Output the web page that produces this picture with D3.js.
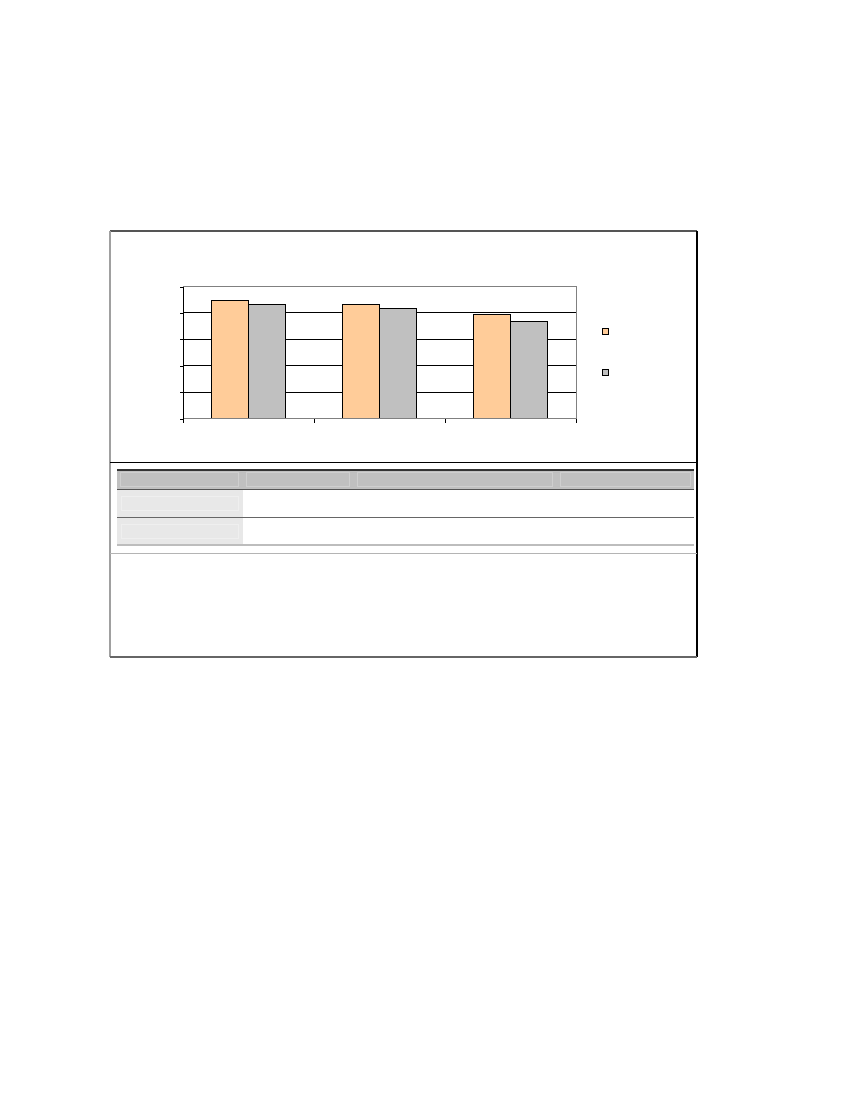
<!DOCTYPE html>
<html>
<head>
<meta charset="utf-8">
<script src="https://cdn.jsdelivr.net/npm/d3@7"></script>
<style>
  body { margin: 0; background: #fff; }
  svg { display: block; shape-rendering: crispEdges; }
</style>
</head>
<body>
<script>
// chart data (no labels are printed in the source picture)
const categories = ["c1", "c2", "c3"];
const seriesNames = ["s1", "s2"];
const seriesA = [89.7, 86.7, 79.1];
const seriesB = [86.7, 83.6, 73.8];
const yTicks = [0, 20, 40, 60, 80, 100];
const tableColumns = ["", "", "", ""];
const tableRows = [["", "", "", ""], ["", "", "", ""]];

const colors = ["#FFCC99", "#C0C0C0"];

const svg = d3.select("body").append("svg")
    .attr("width", 850)
    .attr("height", 1100);

// outer frame
const frame = { x0: 110, y0: 231, x1: 697, y1: 657 };
svg.append("rect")
    .attr("x", frame.x0).attr("y", frame.y0)
    .attr("width", frame.x1 - frame.x0).attr("height", frame.y1 - frame.y0)
    .attr("fill", "#fff");
svg.append("line") // top
    .attr("x1", frame.x0).attr("x2", frame.x1).attr("y1", frame.y0).attr("y2", frame.y0)
    .attr("stroke", "#555").attr("stroke-width", 1.2);
svg.append("line") // left
    .attr("x1", frame.x0).attr("x2", frame.x0).attr("y1", frame.y0).attr("y2", frame.y1)
    .attr("stroke", "#a0a0a0").attr("stroke-width", 2);
svg.append("line") // right
    .attr("x1", frame.x1).attr("x2", frame.x1).attr("y1", frame.y0).attr("y2", frame.y1)
    .attr("stroke", "#000").attr("stroke-width", 1.2);
svg.append("line") // bottom
    .attr("x1", frame.x0).attr("x2", frame.x1).attr("y1", frame.y1).attr("y2", frame.y1)
    .attr("stroke", "#666").attr("stroke-width", 1.2);

// chart / table separators
svg.append("line")
    .attr("x1", frame.x0).attr("x2", frame.x1).attr("y1", 462.5).attr("y2", 462.5)
    .attr("stroke", "#000").attr("stroke-width", 1.2);
svg.append("line")
    .attr("x1", frame.x0).attr("x2", frame.x1).attr("y1", 553.5).attr("y2", 553.5)
    .attr("stroke", "#b4b4b4").attr("stroke-width", 1.5);

// plot area
const plot = { left: 183, right: 576, top: 286.5, bottom: 418.5 };

const x0 = d3.scaleBand()
    .domain(categories)
    .range([plot.left, plot.right])
    .paddingInner(1 - 2 / 3.5)
    .paddingOuter((1 - 2 / 3.5) / 2);

const x1 = d3.scaleBand()
    .domain(seriesNames)
    .range([0, x0.bandwidth()]);

const y = d3.scaleLinear()
    .domain([0, 100])
    .range([plot.bottom, plot.top]);

// gridlines
svg.append("g")
    .selectAll("line")
    .data(yTicks.slice(1, -1))
    .join("line")
    .attr("x1", plot.left).attr("x2", plot.right)
    .attr("y1", d => y(d)).attr("y2", d => y(d))
    .attr("stroke", "#000").attr("stroke-width", 1);

// plot border (top and right, grey)
svg.append("path")
    .attr("d", `M${plot.left},${plot.top}H${plot.right}V${plot.bottom}`)
    .attr("fill", "none").attr("stroke", "#808080").attr("stroke-width", 1);

// bars
const groups = svg.append("g")
    .selectAll("g")
    .data(categories)
    .join("g")
    .attr("transform", d => `translate(${x0(d)},0)`);

groups.selectAll("rect")
    .data((d, i) => [
        { key: seriesNames[0], value: seriesA[i] },
        { key: seriesNames[1], value: seriesB[i] }
    ])
    .join("rect")
    .attr("x", d => x1(d.key))
    .attr("y", d => y(d.value))
    .attr("width", x1.bandwidth())
    .attr("height", d => y(0) - y(d.value))
    .attr("fill", (d, i) => colors[i])
    .attr("stroke", "#000")
    .attr("stroke-width", 1);

// bottom axis line (grey) with black category ticks
svg.append("line")
    .attr("x1", plot.left).attr("x2", plot.right)
    .attr("y1", plot.bottom).attr("y2", plot.bottom)
    .attr("stroke", "#808080").attr("stroke-width", 1.2);

const xBounds = categories.map(c => x0(c) - x0.step() * x0.paddingOuter())
    .concat([plot.right]);
svg.append("g")
    .selectAll("line")
    .data(xBounds)
    .join("line")
    .attr("x1", d => d).attr("x2", d => d)
    .attr("y1", plot.bottom).attr("y2", plot.bottom + 4)
    .attr("stroke", "#000").attr("stroke-width", 1);

// left axis
const yAxis = svg.append("g")
    .attr("transform", `translate(${plot.left},0)`)
    .call(d3.axisLeft(y).tickValues(yTicks).tickSize(3).tickSizeOuter(0).tickFormat(""));
yAxis.select(".domain").attr("stroke", "#000");
yAxis.selectAll(".tick line").attr("stroke", "#000");

// legend
svg.append("g")
    .selectAll("rect")
    .data(seriesNames)
    .join("rect")
    .attr("x", 602)
    .attr("y", (d, i) => 328.5 + i * 41)
    .attr("width", 6)
    .attr("height", 6)
    .attr("fill", (d, i) => colors[i])
    .attr("stroke", "#000")
    .attr("stroke-width", 1);

// data table
const colEdges = [116.5, 242.5, 353.5, 556, 694];
const headerTop = 470, headerBottom = 489.5;
const rowEdges = [489.5, 517.5, 545];

svg.append("rect")
    .attr("x", colEdges[0]).attr("y", headerTop)
    .attr("width", colEdges[4] - colEdges[0]).attr("height", headerBottom - headerTop)
    .attr("fill", "#c0c0c0");

// header cells bevel
svg.append("g")
    .selectAll("rect")
    .data(tableColumns)
    .join("rect")
    .attr("x", (d, i) => colEdges[i] + 4)
    .attr("y", headerTop + 2.5)
    .attr("width", (d, i) => colEdges[i + 1] - colEdges[i] - 8)
    .attr("height", headerBottom - headerTop - 6)
    .attr("fill", "none")
    .attr("stroke", "#d2d2d2")
    .attr("stroke-width", 0.8);

// first column of rows
svg.append("g")
    .selectAll("rect")
    .data(tableRows)
    .join("rect")
    .attr("x", colEdges[0])
    .attr("y", (d, i) => rowEdges[i])
    .attr("width", colEdges[1] - colEdges[0])
    .attr("height", (d, i) => rowEdges[i + 1] - rowEdges[i])
    .attr("fill", "#e8e8e8");

svg.append("g")
    .selectAll("rect")
    .data(tableRows)
    .join("rect")
    .attr("x", colEdges[0] + 5)
    .attr("y", (d, i) => rowEdges[i] + 7)
    .attr("width", colEdges[1] - colEdges[0] - 9)
    .attr("height", 14)
    .attr("fill", "none")
    .attr("stroke", "#f0f0f0")
    .attr("stroke-width", 0.8);

// table rules
svg.append("line")
    .attr("x1", colEdges[0]).attr("x2", colEdges[4]).attr("y1", headerTop).attr("y2", headerTop)
    .attr("stroke", "#333").attr("stroke-width", 1.2);
svg.append("line")
    .attr("x1", colEdges[0]).attr("x2", colEdges[4]).attr("y1", rowEdges[0]).attr("y2", rowEdges[0])
    .attr("stroke", "#555").attr("stroke-width", 1.2);
svg.append("line")
    .attr("x1", colEdges[0]).attr("x2", colEdges[4]).attr("y1", rowEdges[1]).attr("y2", rowEdges[1])
    .attr("stroke", "#666").attr("stroke-width", 1.2);
svg.append("line")
    .attr("x1", colEdges[0]).attr("x2", colEdges[4]).attr("y1", rowEdges[2]).attr("y2", rowEdges[2])
    .attr("stroke", "#bdbdbd").attr("stroke-width", 1.5);
</script>
</body>
</html>
